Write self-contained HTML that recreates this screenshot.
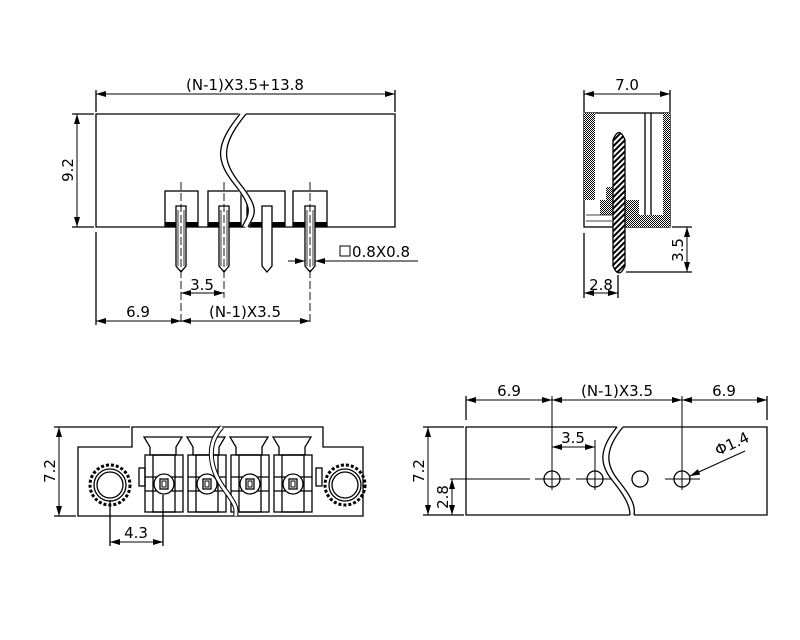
<!DOCTYPE html>
<html><head><meta charset="utf-8"><style>
html,body{margin:0;padding:0;background:#fff}
svg{display:block}
text{font-family:"DejaVu Sans","Liberation Sans",sans-serif;font-size:15px;fill:#000}
</style></head><body>
<svg width="800" height="640" viewBox="0 0 800 640" xmlns="http://www.w3.org/2000/svg">
<defs>
<marker id="a" viewBox="0 0 10 6" refX="10" refY="3" markerWidth="10" markerHeight="6" orient="auto-start-reverse"><path d="M0,0L10,3L0,6z" fill="#000"/></marker>
<pattern id="dots" width="2" height="2" patternUnits="userSpaceOnUse"><rect width="2" height="2" fill="#fff"/><rect width="1" height="1" fill="#000"/><rect x="1" y="1" width="1" height="1" fill="#000"/></pattern>
<pattern id="hat" width="4" height="4" patternUnits="userSpaceOnUse" patternTransform="rotate(45)"><rect width="4" height="4" fill="#fff"/><rect width="2" height="4" fill="#000"/></pattern>
</defs>
<g stroke="#000" fill="none" stroke-width="1.3">
<!-- TOP LEFT VIEW -->
<line x1="96" y1="90" x2="96" y2="112"/><line x1="395" y1="90" x2="395" y2="112"/>
<line x1="96" y1="94" x2="395" y2="94" marker-start="url(#a)" marker-end="url(#a)" stroke-width="1"/>
<path d="M240,114H96V227H165M198,227H208M241,227H247M285,227H293M327,227H395V114H246"/>
<line x1="72" y1="114" x2="94" y2="114"/><line x1="72" y1="227" x2="94" y2="227"/>
<line x1="77" y1="114" x2="77" y2="227" marker-start="url(#a)" marker-end="url(#a)" stroke-width="1"/>
<rect x="165" y="191" width="33" height="36"/><rect x="208" y="191" width="33" height="36"/>
<rect x="247" y="191" width="38" height="36"/><rect x="293" y="191" width="34" height="36"/>
<g fill="#000" stroke="none"><rect x="165" y="222" width="33" height="5"/><rect x="208" y="222" width="33" height="5"/><rect x="249" y="222" width="36" height="5"/><rect x="293" y="222" width="34" height="5"/></g>
<path d="M243,114C218,145 218,160 238,185S251,215 245,227" stroke="#fff" stroke-width="7"/>
<path d="M240,114C215,145 215,160 235,185S248,215 242,227"/>
<path d="M246,114C221,145 221,160 241,185S254,215 248,227"/>
<g fill="#fff">
<path d="M176,206H186V266L181,272L176,266Z"/><path d="M219,206H229V266L224,272L219,266Z"/>
<path d="M262,206H272V266L267,272L262,266Z"/><path d="M305,206H315V266L310,272L305,266Z"/>
</g>
<g stroke-width="0.8"><line x1="178" y1="210" x2="178" y2="266"/><line x1="184" y1="210" x2="184" y2="266"/><line x1="221" y1="210" x2="221" y2="266"/><line x1="227" y1="210" x2="227" y2="266"/><line x1="307" y1="210" x2="307" y2="266"/><line x1="313" y1="210" x2="313" y2="266"/></g>
<g stroke-dasharray="8,3" stroke-width="0.9"><line x1="181" y1="182" x2="181" y2="325"/><line x1="224" y1="182" x2="224" y2="298"/><line x1="310" y1="182" x2="310" y2="325"/></g>
<line x1="96" y1="232" x2="96" y2="325"/>
<line x1="181" y1="293" x2="224" y2="293" marker-start="url(#a)" marker-end="url(#a)" stroke-width="1"/>
<line x1="96" y1="321" x2="181" y2="321" marker-start="url(#a)" marker-end="url(#a)" stroke-width="1"/>
<line x1="181" y1="321" x2="310" y2="321" marker-start="url(#a)" marker-end="url(#a)" stroke-width="1"/>
<line x1="288" y1="261" x2="305" y2="261" marker-end="url(#a)" stroke-width="1"/>
<line x1="335" y1="261" x2="315" y2="261" marker-end="url(#a)" stroke-width="1"/>
<line x1="315" y1="261" x2="418" y2="261" stroke-width="1"/>
<rect x="340" y="246" width="10" height="10" stroke-width="1"/>

<!-- SIDE VIEW -->
<line x1="584" y1="90" x2="584" y2="112"/><line x1="670" y1="90" x2="670" y2="112"/>
<line x1="584" y1="94" x2="670" y2="94" marker-start="url(#a)" marker-end="url(#a)" stroke-width="1"/>
<rect x="584" y="113" width="86" height="114"/>
<path d="M584,113H595V200H606V187H626V200H639V215H663V113H670V227H616V215H600V200H584Z" fill="url(#dots)" stroke="none"/>
<line x1="645" y1="113" x2="645" y2="215"/><line x1="651" y1="113" x2="651" y2="215"/>
<line x1="586" y1="215" x2="612" y2="215" stroke-width="0.8"/><line x1="586" y1="221" x2="612" y2="221" stroke-width="0.8"/>
<path d="M613,140Q619,125 625,140V266Q619,280 613,266Z" fill="url(#hat)"/>
<line x1="584" y1="233" x2="584" y2="298"/><line x1="618" y1="275" x2="618" y2="298"/>
<line x1="584" y1="293" x2="618" y2="293" marker-start="url(#a)" marker-end="url(#a)" stroke-width="1"/>
<line x1="672" y1="227" x2="692" y2="227"/><line x1="626" y1="272" x2="692" y2="272"/>
<line x1="687" y1="227" x2="687" y2="272" marker-start="url(#a)" marker-end="url(#a)" stroke-width="1"/>

<!-- BOTTOM LEFT VIEW -->
<path d="M132,447V427H323V447H363V516H78V447Z"/>
<line x1="54" y1="427" x2="130" y2="427"/><line x1="54" y1="516" x2="76" y2="516"/>
<line x1="59" y1="427" x2="59" y2="516" marker-start="url(#a)" marker-end="url(#a)" stroke-width="1"/>
<circle cx="110" cy="485" r="20" stroke-dasharray="3,2" stroke-width="3"/>
<circle cx="110" cy="485" r="16"/><circle cx="110" cy="485" r="13"/>
<circle cx="345" cy="485" r="20" stroke-dasharray="3,2" stroke-width="3"/>
<circle cx="345" cy="485" r="16"/><circle cx="345" cy="485" r="13"/>
<g id="t">
<path d="M144,437H182L176,447V455H150V447Z"/>
<rect x="145" y="455" width="38" height="57"/>
<rect x="153" y="455" width="22" height="57"/>
<line x1="145" y1="477" x2="183" y2="477"/><line x1="145" y1="491" x2="183" y2="491"/>
<circle cx="164" cy="484" r="10" fill="#fff"/>
<rect x="160" y="479" width="8" height="10"/><rect x="162" y="481" width="4" height="6" stroke-width="1"/>
</g>
<use href="#t" x="43"/><use href="#t" x="86"/><use href="#t" x="129"/>
<rect x="139" y="468" width="6" height="18"/><rect x="316" y="468" width="6" height="18"/>
<path d="M222,427C205,445 210,470 225,490S235,510 236,516" stroke="#000" stroke-width="5"/>
<path d="M222,427C205,445 210,470 225,490S235,510 236,516" stroke="#fff" stroke-width="3"/>
<line x1="110" y1="500" x2="110" y2="546"/><line x1="163" y1="495" x2="163" y2="546"/>
<line x1="110" y1="542" x2="163" y2="542" marker-start="url(#a)" marker-end="url(#a)" stroke-width="1"/>

<!-- BOTTOM RIGHT VIEW -->
<line x1="466" y1="396" x2="466" y2="420"/><line x1="767" y1="396" x2="767" y2="420"/>
<line x1="466" y1="400" x2="552" y2="400" marker-start="url(#a)" marker-end="url(#a)" stroke-width="1"/>
<line x1="552" y1="400" x2="682" y2="400" marker-start="url(#a)" marker-end="url(#a)" stroke-width="1"/>
<line x1="682" y1="400" x2="767" y2="400" marker-start="url(#a)" marker-end="url(#a)" stroke-width="1"/>
<path d="M617,427H466V515H630M634,515H767V427H623"/>
<path d="M617,427C598,450 600,465 612,480S630,505 630,515"/>
<path d="M623,427C604,450 606,465 618,480S636,505 634,515"/>
<line x1="552" y1="396" x2="552" y2="490" stroke-width="1"/><line x1="682" y1="396" x2="682" y2="490" stroke-width="1"/>
<line x1="595" y1="440" x2="595" y2="490" stroke-width="1"/>
<line x1="552" y1="447" x2="595" y2="447" marker-start="url(#a)" marker-end="url(#a)" stroke-width="1"/>
<line x1="450" y1="479" x2="530" y2="479" stroke-width="1"/>
<g stroke-width="1"><line x1="535" y1="479" x2="570" y2="479"/><line x1="576" y1="479" x2="612" y2="479"/><line x1="665" y1="479" x2="700" y2="479"/></g>
<circle cx="552" cy="479" r="8"/><circle cx="595" cy="479" r="8"/><circle cx="640" cy="479" r="8"/><circle cx="682" cy="479" r="8"/>
<line x1="745" y1="451" x2="690" y2="476" marker-end="url(#a)" stroke-width="1"/>
<line x1="423" y1="427" x2="464" y2="427"/><line x1="423" y1="515" x2="464" y2="515"/>
<line x1="428" y1="427" x2="428" y2="515" marker-start="url(#a)" marker-end="url(#a)" stroke-width="1"/>
<line x1="452" y1="479" x2="452" y2="515" marker-start="url(#a)" marker-end="url(#a)" stroke-width="1"/>
</g>
<g>
<text x="245" y="90" text-anchor="middle">(N-1)X3.5+13.8</text>
<text transform="translate(73,170) rotate(-90)" text-anchor="middle">9.2</text>
<text x="202" y="290" text-anchor="middle">3.5</text>
<text x="138" y="317" text-anchor="middle">6.9</text>
<text x="245" y="317" text-anchor="middle">(N-1)X3.5</text>
<text x="352" y="257">0.8X0.8</text>
<text x="627" y="90" text-anchor="middle">7.0</text>
<text x="601" y="290" text-anchor="middle">2.8</text>
<text transform="translate(683,250) rotate(-90)" text-anchor="middle">3.5</text>
<text transform="translate(55,471) rotate(-90)" text-anchor="middle">7.2</text>
<text x="136" y="538" text-anchor="middle">4.3</text>
<text x="509" y="396" text-anchor="middle">6.9</text>
<text x="617" y="396" text-anchor="middle">(N-1)X3.5</text>
<text x="724" y="396" text-anchor="middle">6.9</text>
<text x="573" y="443" text-anchor="middle">3.5</text>
<text transform="translate(424,471) rotate(-90)" text-anchor="middle">7.2</text>
<text transform="translate(448,497) rotate(-90)" text-anchor="middle">2.8</text>
<text transform="translate(718,456) rotate(-25)">Φ1.4</text>
</g>
</svg>
</body></html>
